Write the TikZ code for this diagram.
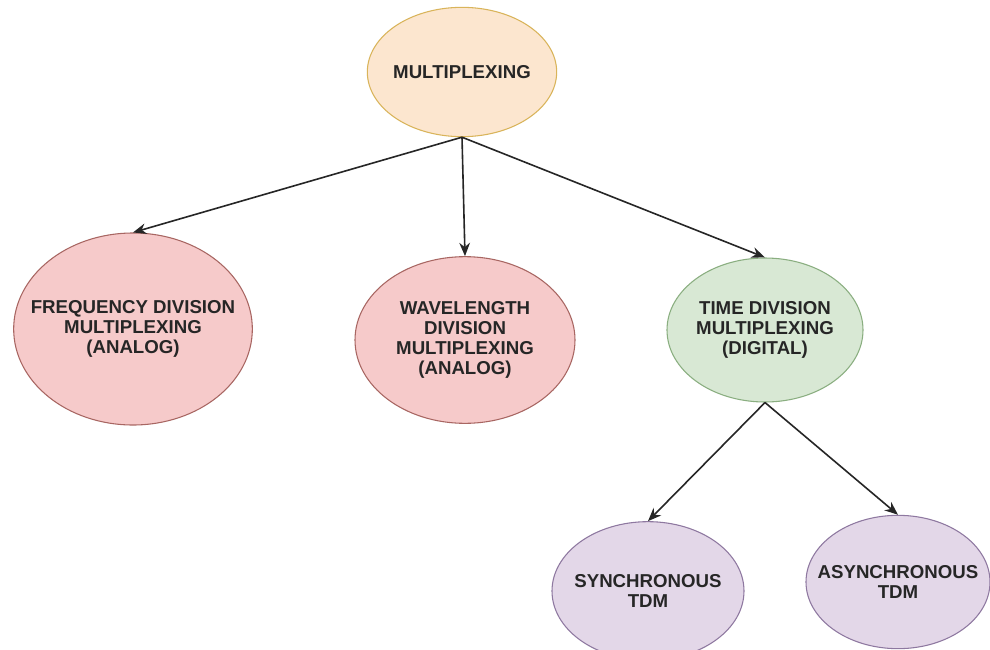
\documentclass[tikz,border=0pt]{standalone}
\usepackage{fontspec}
\setmainfont{Liberation Sans}
\usetikzlibrary{shapes.geometric,arrows.meta}
\definecolor{peach}{HTML}{FCE6CF}
\definecolor{gold}{HTML}{D9B45A}
\definecolor{rose}{HTML}{F6CACA}
\definecolor{roseline}{HTML}{A86662}
\definecolor{mint}{HTML}{D8E8D4}
\definecolor{mintline}{HTML}{8AAE80}
\definecolor{lilac}{HTML}{E3D7E8}
\definecolor{lilacline}{HTML}{8E78A0}
\begin{document}
\begin{tikzpicture}[x=0.75pt,y=-0.75pt,
    bubble/.style={ellipse,draw,line width=0.8pt,inner xsep=-20pt,inner ysep=0pt,align=center,
        font=\fontsize{14}{15}\selectfont\bfseries,text=black!85},
    orangebubble/.style={bubble,fill=peach,draw=gold},
    redbubble/.style={bubble,fill=rose,draw=roseline},
    greenbubble/.style={bubble,fill=mint,draw=mintline},
    purplebubble/.style={bubble,fill=lilac,draw=lilacline},
    link/.style={-{Stealth[length=10pt,width=8pt]},line width=1.2pt,black!85}]
    \useasboundingbox[fill=white] (0,0) rectangle (990,650);
    \node[orangebubble,minimum width=142pt,minimum height=97pt] (mux) at (462,72) {MULTIPLEXING};
    \node[redbubble,minimum width=179pt,minimum height=144pt] (fdm) at (133,329) {FREQUENCY DIVISION\\MULTIPLEXING\\(ANALOG)};
    \node[redbubble,minimum width=165pt,minimum height=125pt] (wdm) at (465,340) {WAVELENGTH\\DIVISION\\MULTIPLEXING\\(ANALOG)};
    \node[greenbubble,minimum width=147pt,minimum height=108pt] (tdm) at (765,330) {TIME DIVISION\\MULTIPLEXING\\(DIGITAL)};
    \node[purplebubble,minimum width=144pt,minimum height=104pt] (sync) at (648,591) {SYNCHRONOUS\\TDM};
    \node[purplebubble,minimum width=138pt,minimum height=100pt] (async) at (898,582) {ASYNCHRONOUS\\TDM};
    \draw[link] (mux.south) -- (fdm.north);
    \draw[link] (mux.south) -- (wdm.north);
    \draw[link] (mux.south) -- (tdm.north);
    \draw[link] (tdm.south) -- (sync.north);
    \draw[link] (tdm.south) -- (async.north);
\end{tikzpicture}
\end{document}
